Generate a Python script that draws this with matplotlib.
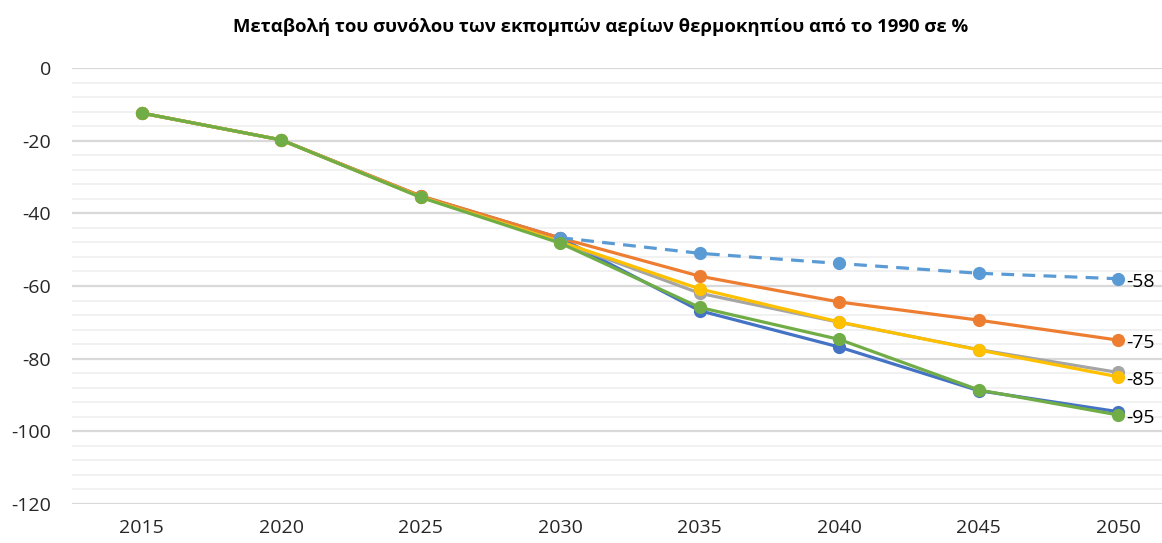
import matplotlib
matplotlib.use("Agg")
import matplotlib.pyplot as plt
from matplotlib.ticker import MultipleLocator

years = ["2015", "2020", "2025", "2030", "2035", "2040", "2045", "2050"]
s_blue = [-12.4, -19.8, -35.3, -46.8, -66.8, -76.8, -88.8, -94.6]
s_orange = [-12.4, -19.8, -35.2, -46.8, -57.3, -64.4, -69.4, -74.9]
s_gray = [-12.4, -19.8, -35.5, -47.8, -62.0, -70.0, -77.5, -83.8]
s_yellow = [-12.4, -19.8, -35.5, -47.8, -60.8, -69.9, -77.6, -85.0]
s_ltblue = [None, None, None, -46.7, -51.0, -53.8, -56.5, -58.0]
s_green = [-12.4, -19.8, -35.6, -48.2, -65.9, -74.7, -88.6, -95.5]
end_labels = ["-58", "-75", "-85", "-95"]
title = "Μεταβολή του συνόλου των εκπομπών αερίων θερμοκηπίου από το 1990 σε %"

plt.rcParams['font.family'] = ['Open Sans', 'DejaVu Sans']
plt.rcParams['axes.unicode_minus'] = False

W, H = 1162, 543
fig = plt.figure(figsize=(W/100, H/100), dpi=100)
left, right, bottom, top = 72, 1162, 504, 68
ax = fig.add_axes([left/W, (H-bottom)/H, (right-left)/W, (bottom-top)/H])

x = list(range(len(years)))
series = [
    (s_blue, "#4472C4", "-"),
    (s_orange, "#ED7D31", "-"),
    (s_gray, "#A5A5A5", "-"),
    (s_yellow, "#FFC000", "-"),
    (s_ltblue, "#5B9BD5", (0, (4, 2.6))),
    (s_green, "#70AD47", "-"),
]
for vals, col, ls in series:
    xs = [xi for xi, v in zip(x, vals) if v is not None]
    vs = [v for v in vals if v is not None]
    ax.plot(xs, vs, color=col, lw=2.3, ls=ls, marker="o", markersize=9.5,
            markeredgewidth=0, solid_capstyle="round", dash_capstyle="butt", zorder=3)

for vals, lab in zip([s_ltblue, s_orange, s_yellow, s_green], end_labels):
    ax.annotate(lab, (x[-1], vals[-1]), xytext=(6, -2), textcoords="offset points",
                ha="left", va="center", fontsize=14, color="#000000", zorder=4)

ax.set_xlim(-0.5, (right - 141) / 139.6)
ax.set_ylim(-120, 0)
ax.yaxis.set_major_locator(MultipleLocator(20))
ax.yaxis.set_minor_locator(MultipleLocator(4))
ax.set_xticks(x)
ax.set_xticklabels(years)
ax.grid(axis="y", which="major", color="#D9D9D9", lw=1.6, zorder=0)
ax.grid(axis="y", which="minor", color="#F0F0F0", lw=1.3, zorder=0)
ax.tick_params(axis="both", which="both", length=0, labelsize=14, labelcolor="#262626")
ax.tick_params(axis="y", pad=15)
ax.tick_params(axis="x", pad=11)
for sp in ax.spines.values():
    sp.set_visible(False)

fig.text(601/W, 1 - 27/H, title, ha="center", va="center", fontsize=13.3,
         fontweight="bold", color="#000000")

fig.savefig("out.png", dpi=100)
